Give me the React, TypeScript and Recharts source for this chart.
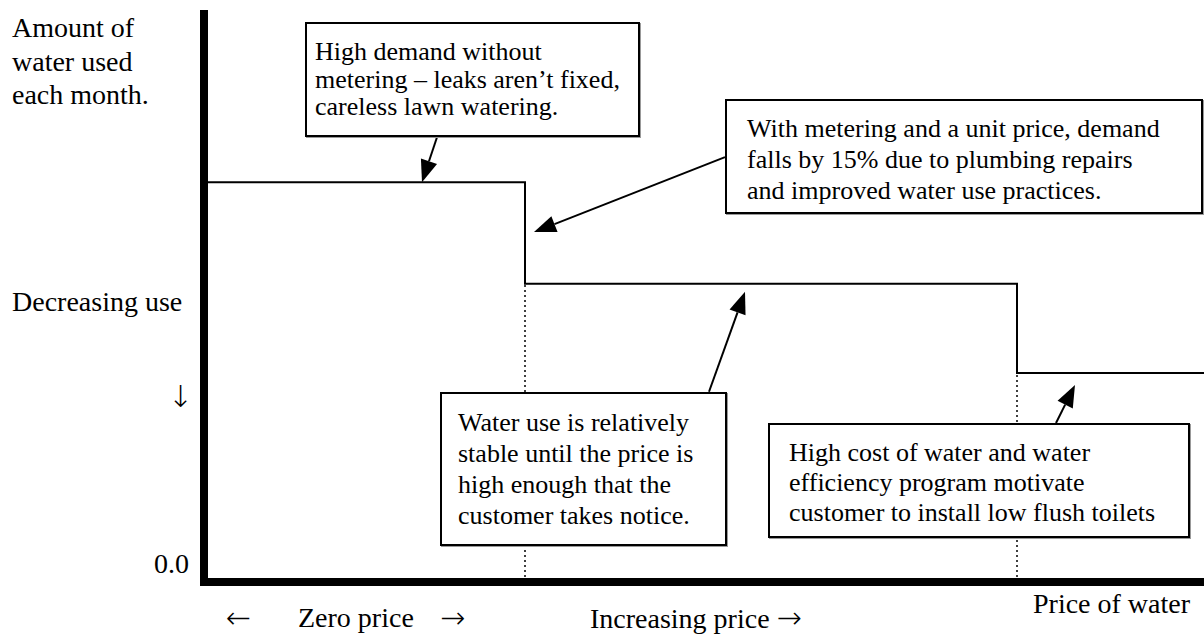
import { LineChart, Line, XAxis, YAxis, ReferenceLine } from 'recharts'

// step demand curve: price (0-100) vs monthly water use (0-100)
const priceSteps = [0, 32.1, 81.3, 100]
const waterUse = [70.4, 52.5, 36.8, 36.8]
const yTicks = [0]

// callout arrows in data units: [price, use]
const arrowTails = [[23.3, 78.3], [52.1, 74.8], [50.5, 33.5], [85.2, 28.0]]
const arrowHeads = [[21.8, 70.4], [33.0, 61.6], [54.1, 51.1], [87.1, 34.7]]

const noteLines = [
  ['High demand without', 'metering \u2013 leaks aren\u2019t fixed,', 'careless lawn watering.'],
  ['With metering and a unit price, demand', 'falls by 15% due to plumbing repairs', 'and improved water use practices.'],
  ['Water use is relatively', 'stable until the price is', 'high enough that the', 'customer takes notice.'],
  ['High cost of water and water', 'efficiency program motivate', 'customer to install low flush toilets'],
]

const yLabelLines = ['Amount of', 'water used', 'each month.']

const serif = '"Liberation Serif", "Times New Roman", serif'
const arrowFont = '"DejaVu Sans", sans-serif'

// box placement for the callouts
const noteBoxes = [
  { left: 305, top: 22, width: 335, height: 115, padL: 8, padT: 14, lh: 27.5 },
  { left: 725, top: 99, width: 478, height: 115, padL: 20, padT: 12, lh: 31 },
  { left: 440, top: 392, width: 287, height: 154, padL: 16, padT: 13, lh: 31 },
  { left: 768, top: 423, width: 422, height: 115, padL: 19, padT: 13, lh: 30 },
]

const data = priceSteps.map((p, i) => ({ price: p, use: waterUse[i] }))

function Arrow(props: any) {
  const { x1, y1, x2, y2 } = props
  const dx = x2 - x1
  const dy = y2 - y1
  const len = Math.hypot(dx, dy) || 1
  const ux = dx / len
  const uy = dy / len
  const headL = 22
  const headW = 8.5
  const bx = x2 - ux * headL
  const by = y2 - uy * headL
  const pts = `${x2},${y2} ${bx - uy * headW},${by + ux * headW} ${bx + uy * headW},${by - ux * headW}`
  return (
    <g>
      <line x1={x1} y1={y1} x2={bx} y2={by} stroke="#000" strokeWidth={2} />
      <polygon points={pts} fill="#000" />
    </g>
  )
}

function ZeroTick(props: any) {
  const { y } = props
  return (
    <text x={189} y={y - 9} textAnchor="end" fontSize={28} fontFamily={serif} fill="#000">
      0.0
    </text>
  )
}

const bigArrow = { fontFamily: arrowFont, fontSize: 30, fontWeight: 200 as const }

export default function App() {
  return (
    <div style={{ position: 'absolute', left: 0, top: 0, width: 1204, height: 634, background: '#fff', fontFamily: serif, color: '#000' }}>
      <LineChart width={1204} height={634} data={data} margin={{ top: 14, right: 0, left: 0, bottom: 0 }}>
        <XAxis
          dataKey="price"
          type="number"
          domain={[0, 100]}
          tick={false}
          tickLine={false}
          height={52}
          axisLine={{ stroke: '#000', strokeWidth: 8, strokeLinecap: 'square' }}
        />
        <YAxis
          type="number"
          domain={[0, 100]}
          ticks={yTicks}
          tick={<ZeroTick />}
          tickLine={false}
          width={204}
          axisLine={{ stroke: '#000', strokeWidth: 8, strokeLinecap: 'square' }}
        />
        {[1, 2].map(i => (
          <ReferenceLine
            key={'drop' + i}
            segment={[{ x: priceSteps[i], y: 0 }, { x: priceSteps[i], y: waterUse[i] }]}
            stroke="#000"
            strokeWidth={1.5}
            strokeDasharray="2 3"
          />
        ))}
        <Line
          type="stepAfter"
          dataKey="use"
          stroke="#000"
          strokeWidth={2}
          dot={false}
          isAnimationActive={false}
        />
        {arrowTails.map((t, i) => (
          <ReferenceLine
            key={'arrow' + i}
            segment={[{ x: t[0], y: t[1] }, { x: arrowHeads[i][0], y: arrowHeads[i][1] }]}
            shape={(p: any) => <Arrow {...p} />}
          />
        ))}
      </LineChart>

      <div style={{ position: 'absolute', left: 12, top: 11, fontSize: 28, lineHeight: '33.5px', whiteSpace: 'nowrap' }}>
        {yLabelLines.map(l => <div key={l}>{l}</div>)}
      </div>
      <div style={{ position: 'absolute', left: 12, top: 286, fontSize: 28, lineHeight: '32px', whiteSpace: 'nowrap' }}>
        Decreasing use
      </div>
      <div style={{ position: 'absolute', left: 168, top: 379, lineHeight: '36px', ...bigArrow }}>{'\u2193'}</div>

      {noteLines.map((lines, i) => {
        const b = noteBoxes[i]
        return (
          <div
            key={'note' + i}
            style={{
              position: 'absolute',
              left: b.left,
              top: b.top,
              width: b.width,
              height: b.height,
              boxSizing: 'border-box',
              border: '2px solid #000',
              boxShadow: '1px 1px 0 #999',
              background: '#fff',
              paddingLeft: b.padL,
              paddingTop: b.padT,
              fontSize: 26,
              lineHeight: b.lh + 'px',
              whiteSpace: 'nowrap',
            }}
          >
            {lines.map(l => <div key={l}>{l}</div>)}
          </div>
        )
      })}

      <div style={{ position: 'absolute', left: 226, top: 600, lineHeight: '36px', ...bigArrow }}>{'\u2190'}</div>
      <div style={{ position: 'absolute', left: 298, top: 602, fontSize: 28, lineHeight: '32px', whiteSpace: 'nowrap' }}>Zero price</div>
      <div style={{ position: 'absolute', left: 440, top: 600, lineHeight: '36px', ...bigArrow }}>{'\u2192'}</div>
      <div style={{ position: 'absolute', left: 590, top: 602, fontSize: 28, lineHeight: '32px', whiteSpace: 'nowrap' }}>
        Increasing price <span style={{ ...bigArrow, lineHeight: '32px' }}>{'\u2192'}</span>
      </div>
      <div style={{ position: 'absolute', left: 1033, top: 588, fontSize: 28, lineHeight: '32px', whiteSpace: 'nowrap' }}>Price of water</div>
    </div>
  )
}
